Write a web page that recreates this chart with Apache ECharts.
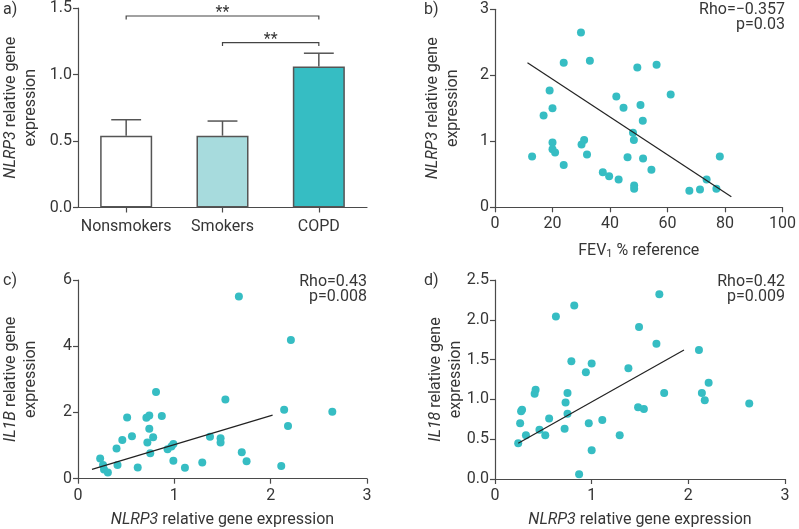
<!DOCTYPE html>
<html><head><meta charset="utf-8">
<script src="https://cdn.jsdelivr.net/npm/echarts@6/dist/echarts.min.js"></script>
<style>html,body{margin:0;padding:0;background:#fff}#c{width:799px;height:529px}</style>
</head><body><div id="c"></div>
<script>
// ---- data ----
const groups = ['Nonsmokers', 'Smokers', 'COPD'];
const groupMeans = [0.54, 0.54, 1.06];
const groupUpper = [0.66, 0.65, 1.16];
const bracketFrom = [0, 1];
const bracketTo = [2, 2];
const bracketLevel = [1.44, 1.24];
const bracketText = ['**', '**'];

const fevB = [29.9,23.9,33.0,49.5,56.2,19.0,61.1,42.2,20.0,44.7,50.6,16.9,51.4,48.0,48.3,20.0,31.0,30.1,20.0,20.9,12.9,32.0,46.1,51.5,78.2,23.9,54.4,37.5,39.7,43.0,48.4,48.4,73.6,67.6,71.3,77.0];
const nlrp3B = [2.65,2.19,2.22,2.12,2.16,1.77,1.71,1.68,1.50,1.51,1.55,1.39,1.31,1.13,1.02,0.98,1.02,0.95,0.88,0.83,0.77,0.80,0.76,0.74,0.77,0.64,0.57,0.53,0.47,0.42,0.33,0.28,0.42,0.25,0.27,0.28];
const fitBx = [11.3, 82.2], fitBy = [2.19, 0.16];

const nlrp3C = [1.67,2.21,0.81,1.53,2.14,2.64,0.51,0.71,0.74,0.87,2.18,0.74,0.56,0.46,0.78,0.72,1.37,1.48,1.48,0.99,0.97,0.93,0.40,0.75,1.70,0.23,0.99,1.75,1.29,0.41,0.62,1.11,2.11,0.26,0.27,0.31];
const il1bC = [5.50,4.19,2.62,2.39,2.08,2.02,1.85,1.84,1.91,1.89,1.59,1.51,1.28,1.17,1.25,1.09,1.27,1.22,1.09,1.05,0.97,0.89,0.91,0.77,0.80,0.61,0.54,0.53,0.49,0.41,0.34,0.33,0.38,0.41,0.28,0.19];
const fitCx = [0.145, 2.02], fitCy = [0.28, 1.92];

const nlrp3D = [1.70,0.82,0.63,1.49,1.67,2.11,0.79,1.00,1.38,0.94,2.21,0.42,0.41,0.75,1.75,2.14,2.17,0.73,2.63,0.28,0.27,0.75,1.48,1.54,0.56,1.11,0.26,0.97,0.46,0.72,0.32,0.52,1.29,0.24,1.00,0.87];
const il18D = [2.32,2.18,2.04,1.91,1.70,1.62,1.48,1.45,1.39,1.34,1.21,1.12,1.07,1.08,1.08,1.08,0.99,0.96,0.95,0.87,0.85,0.82,0.90,0.88,0.76,0.74,0.70,0.70,0.62,0.63,0.55,0.55,0.55,0.45,0.36,0.06];
const fitDx = [0.24, 1.955], fitDy = [0.45, 1.62];

const stats = ['Rho=\u22120.357\np=0.03', 'Rho=0.43\np=0.008', 'Rho=0.42\np=0.009'];

// ---- style ----
const FONT = 'Roboto';
const TXT = '#363636';
const AX = '#4a4a4a';
const TEAL = '#36bdc3';
const LIGHT = '#a7dbdd';
const zip = (a, b) => a.map((v, i) => [v, b[i]]);

function valAxis(idx, min, max, interval, dec, margin, extra) {
  return Object.assign({
    type: 'value', gridIndex: idx, min, max, interval,
    nameMoveOverlap: false,
    axisLine: { show: true, onZero: false, lineStyle: { color: AX, width: 1.2 } },
    axisTick: { show: true, length: 5, lineStyle: { color: AX, width: 1.2 } },
    splitLine: { show: false },
    axisLabel: { color: TXT, fontFamily: FONT, fontSize: 16, margin: margin,
      formatter: v => dec ? v.toFixed(dec) : String(v) }
  }, extra || {});
}
const yNameStyle = { color: TXT, fontFamily: FONT, fontSize: 16, lineHeight: 20,
  rich: { i: { fontStyle: 'italic', fontFamily: FONT, fontSize: 16, color: TXT, lineHeight: 20 } } };
const xNameStyle = { color: TXT, fontFamily: FONT, fontSize: 16,
  rich: { i: { fontStyle: 'italic', fontFamily: FONT, fontSize: 16, color: TXT },
          s: { fontFamily: FONT, fontSize: 11, color: TXT, verticalAlign: 'bottom', padding: [6, 0, 0, 0] } } };

const option = {
  backgroundColor: '#fff',
  animation: false,
  grid: [
    { left: 77, top: 7.5, width: 290, height: 200 },
    { left: 495, top: 9.3, width: 290, height: 198 },
    { left: 77, top: 280, width: 290, height: 198.7 },
    { left: 495, top: 280, width: 290, height: 199 }
  ],
  xAxis: [
    { type: 'category', gridIndex: 0, data: groups,
      axisLine: { show: true, lineStyle: { color: AX, width: 1.2 } },
      axisTick: { show: true, alignWithLabel: true, length: 5, lineStyle: { color: AX, width: 1.2 } },
      axisLabel: { color: TXT, fontFamily: FONT, fontSize: 16, margin: 11, interval: 0 } },
    valAxis(1, 0, 100, 20, 0, 9, { name: 'FEV{s|1} % reference', nameLocation: 'middle', nameGap: 35, nameTextStyle: xNameStyle }),
    valAxis(2, 0, 3, 1, 0, 9, { name: '{i|NLRP3} relative gene expression', nameLocation: 'middle', nameGap: 33, nameTextStyle: xNameStyle }),
    valAxis(3, 0, 3, 1, 0, 9, { name: '{i|NLRP3} relative gene expression', nameLocation: 'middle', nameGap: 33, nameTextStyle: xNameStyle })
  ],
  yAxis: [
    valAxis(0, 0, 1.5, 0.5, 1, 6, { name: '{i|NLRP3} relative gene\nexpression', nameLocation: 'middle', nameGap: 37, nameTextStyle: yNameStyle }),
    valAxis(1, 0, 3, 1, 0, 6, { name: '{i|NLRP3} relative gene\nexpression', nameLocation: 'middle', nameGap: 32, nameTextStyle: yNameStyle }),
    valAxis(2, 0, 6, 2, 0, 6, { name: '{i|IL1B} relative gene\nexpression', nameLocation: 'middle', nameGap: 37, nameTextStyle: yNameStyle }),
    valAxis(3, 0, 2.5, 0.5, 1, 6, { name: '{i|IL18} relative gene\nexpression', nameLocation: 'middle', nameGap: 29, nameTextStyle: yNameStyle })
  ],
  graphic: [
    { type: 'text', x: 3, y: 2, style: { text: 'a)', font: '16px Roboto', fill: TXT } },
    { type: 'text', x: 424, y: 2, style: { text: 'b)', font: '16px Roboto', fill: TXT } },
    { type: 'text', x: 3, y: 273, style: { text: 'c)', font: '16px Roboto', fill: TXT } },
    { type: 'text', x: 424, y: 273, style: { text: 'd)', font: '16px Roboto', fill: TXT } },
    { type: 'text', x: 785, y: 3, style: { text: stats[0], align: 'right', font: '16px Roboto', lineHeight: 14.5, fill: TXT } },
    { type: 'text', x: 367, y: 275, style: { text: stats[1], align: 'right', font: '16px Roboto', lineHeight: 14.5, fill: TXT } },
    { type: 'text', x: 785, y: 275, style: { text: stats[2], align: 'right', font: '16px Roboto', lineHeight: 14.5, fill: TXT } }
  ],
  series: [
    { type: 'bar', xAxisIndex: 0, yAxisIndex: 0, barWidth: '54%',
      data: groupMeans.map((v, i) => ({ value: v, itemStyle: { color: ['#ffffff', LIGHT, TEAL][i], borderColor: '#555', borderWidth: 1.5 } })) },
    { type: 'custom', xAxisIndex: 0, yAxisIndex: 0, z: 1,
      data: groupMeans.map((v, i) => [i, v, groupUpper[i]]),
      renderItem(params, api) {
        const x = api.value(0);
        const p0 = api.coord([x, api.value(1)]);
        const p1 = api.coord([x, api.value(2)]);
        const half = api.size([1, 0])[0] * 0.155;
        const st = { stroke: '#555', lineWidth: 1.5 };
        return { type: 'group', children: [
          { type: 'line', shape: { x1: p0[0], y1: p0[1], x2: p1[0], y2: p1[1] }, style: st },
          { type: 'line', shape: { x1: p1[0] - half, y1: p1[1], x2: p1[0] + half, y2: p1[1] }, style: st }
        ] };
      } },
    { type: 'custom', xAxisIndex: 0, yAxisIndex: 0,
      data: bracketFrom.map((f, i) => [f, bracketTo[i], bracketLevel[i]]),
      renderItem(params, api) {
        const a = api.coord([api.value(0), api.value(2)]);
        const b = api.coord([api.value(1), api.value(2)]);
        return { type: 'group', children: [
          { type: 'polyline', shape: { points: [[a[0], a[1] + 3.5], [a[0], a[1]], [b[0], b[1]], [b[0], b[1] + 3.5]] },
            style: { stroke: '#444', fill: null, lineWidth: 1.2 } },
          { type: 'text', x: (a[0] + b[0]) / 2, y: a[1] + 5,
            style: { text: bracketText[params.dataIndex], align: 'center', verticalAlign: 'bottom', font: '16px Roboto', fill: TXT } }
        ] };
      } },
    { type: 'scatter', xAxisIndex: 1, yAxisIndex: 1, symbolSize: 8, itemStyle: { color: TEAL, opacity: 1 }, data: zip(fevB, nlrp3B) },
    { type: 'line', xAxisIndex: 1, yAxisIndex: 1, symbol: 'none', lineStyle: { color: '#222', width: 1.2 }, data: zip(fitBx, fitBy) },
    { type: 'scatter', xAxisIndex: 2, yAxisIndex: 2, symbolSize: 8, itemStyle: { color: TEAL, opacity: 1 }, data: zip(nlrp3C, il1bC) },
    { type: 'line', xAxisIndex: 2, yAxisIndex: 2, symbol: 'none', lineStyle: { color: '#222', width: 1.2 }, data: zip(fitCx, fitCy) },
    { type: 'scatter', xAxisIndex: 3, yAxisIndex: 3, symbolSize: 8, itemStyle: { color: TEAL, opacity: 1 }, data: zip(nlrp3D, il18D) },
    { type: 'line', xAxisIndex: 3, yAxisIndex: 3, symbol: 'none', lineStyle: { color: '#222', width: 1.2 }, data: zip(fitDx, fitDy) }
  ]
};
const chart = echarts.init(document.getElementById('c'), null, { renderer: 'canvas' });
chart.setOption(option);
</script></body></html>
